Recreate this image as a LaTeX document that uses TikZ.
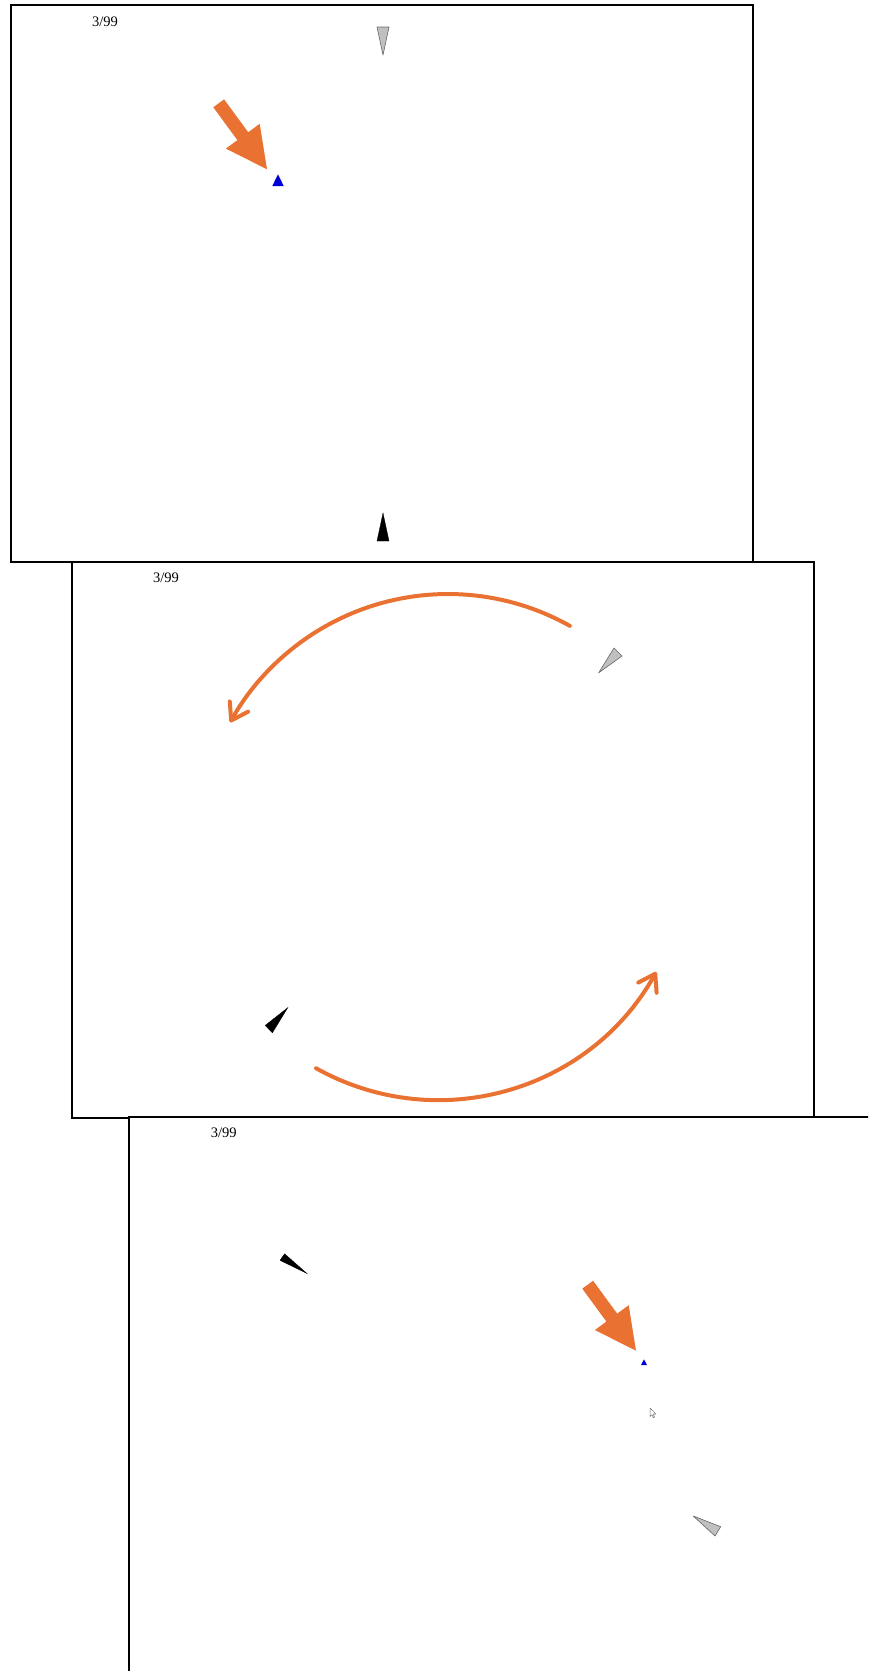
\documentclass[tikz,border=0pt]{standalone}
\usepackage{fontspec}
\setmainfont{Liberation Serif}
\usetikzlibrary{arrows.meta}
\definecolor{slideorange}{RGB}{233,113,50}
\definecolor{shipgray}{RGB}{192,192,192}

\begin{document}
\begin{tikzpicture}[
  x=1pt, y=-1pt,
  frame/.style={draw=black, line width=1.8pt, fill=white},
  count/.style={anchor=base west, inner sep=0pt, font=\fontsize{14.5}{16}\selectfont},
  greyship/.style={draw=black!60, line width=0.6pt, fill=shipgray, line join=round},
  blackship/.style={draw=black, line width=0.3pt, fill=black},
  target/.style={fill=blue!85!black},
  bigarr/.style={fill=slideorange},
  turn/.style={draw=slideorange, line width=4pt, line cap=round,
    -{Straight Barb[length=16pt, width=21pt, round]}}
]
\useasboundingbox (0,0) rectangle (868,1671);
\clip (0,0) rectangle (868,1671);

% first frame
\draw[frame] (10.7,5.3) rectangle (752.8,562);
\node[count] (cnt1) at (92,26) {3/99};
\draw[greyship] (377,27) -- (389,27) -- (383,55) -- cycle;
\draw[blackship] (383,513) -- (389,541) -- (377,541) -- cycle;
\fill[target] (278,174.3) -- (283.7,186) -- (272.3,186) -- cycle;

% second frame
\draw[frame] (72,562) rectangle (814,1118);
\node[count] (cnt2) at (153,582.5) {3/99};
\coordinate (ctop) at (448,843);
\coordinate (cbot) at (438,850);
\draw[turn] (ctop) ++(-60.7:249) arc[start angle=-60.7, end angle=-151, radius=249];
\draw[turn] (cbot) ++(119.2:250) arc[start angle=119.2, end angle=29.2, radius=250];
\draw[greyship] (598.7,672.8) -- (614,648) -- (622,656) -- cycle;
\draw[blackship] (287.8,1007.6) -- (272.4,1032.8) -- (265.2,1025.4) -- cycle;

% third frame
\draw[frame] (129,1117) rectangle (872,1676);
\node[count] (cnt3) at (210.6,1137) {3/99};
\draw[blackship] (280,1260.3) -- (284.6,1253.8) -- (307,1273.5) -- cycle;
\draw[greyship] (693.3,1516) -- (720.7,1526.7) -- (715,1536) -- cycle;
\fill[target] (644,1359.3) -- (647,1365) -- (641,1365) -- cycle;
\draw[fill=white, draw=black!55, line width=0.5pt, line join=round]
  (650,1408) -- (650,1416.5) -- (652,1414.6) -- (653.4,1417.6) -- (654.6,1417.1)
  -- (653.3,1414.2) -- (656,1414.2) -- cycle;

% pointing arrows
\foreach \dx/\dy in {0/0, 369/1181.4}
  \fill[bigarr, shift={(\dx,\dy)}] (224.1,99.35) -- (248.2,132.25) -- (259.7,123.8)
    -- (267,169.3) -- (225.9,148.6) -- (237.4,140.15) -- (213.3,107.25) -- cycle;

\end{tikzpicture}
\end{document}
